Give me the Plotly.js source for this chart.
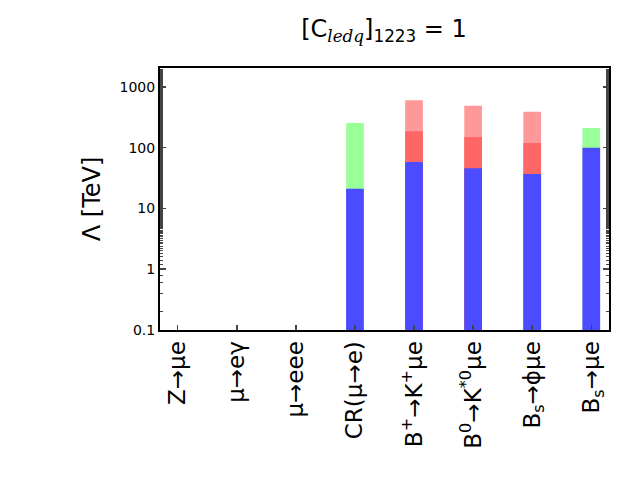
<!DOCTYPE html>
<html>
<head>
<meta charset="utf-8">
<script src="https://cdn.plot.ly/plotly-3.0.1.min.js"></script>
<style>
  html, body { margin: 0; padding: 0; background: #fff; }
  #chart { width: 640px; height: 480px; }
</style>
</head>
<body>
<div id="chart"></div>
<script>
// processes along the x axis
const processes = [
    "Z→μe",
    "μ→eγ",
    "μ→eee",
    "CR(μ→e)",
    "B<sup>+</sup>→K<sup>+</sup>μe",
    "B<sup>0</sup>→K<sup>*0</sup>μe",
    "B<sub>s</sub>→ϕμe",
    "B<sub>s</sub>→μe"
];
const positions = [0, 1, 2, 3, 4, 5, 6, 7];

// bounds on Lambda in TeV (null = no bar)
const blueVals      = [null, null, null, 21, 58, 46, 37, 100];
const redVals       = [null, null, null, null, 186, 150, 119, null];
const lightRedVals  = [null, null, null, null, 600, 490, 390, null];
const greenVals     = [null, null, null, 255, null, null, null, 210];

const yTickVals = [0.1, 1, 10, 100, 1000];
const yTickText = ["0.1", "1", "10", "100", "1000"];

function barTrace(vals, color) {
    return {
        x: positions,
        y: vals,
        type: 'bar',
        width: 0.3,
        marker: { color: color, line: { width: 0 } },
        hoverinfo: 'y',
        showlegend: false
    };
}

let traces = [
    barTrace(lightRedVals, '#ff9999'),
    barTrace(greenVals, '#99ff99'),
    barTrace(redVals, '#ff6666'),
    barTrace(blueVals, '#4b4bff')
];

let layout = {
    width: 640,
    height: 480,
    barmode: 'overlay',
    paper_bgcolor: '#fff',
    plot_bgcolor: '#fff',
    font: { family: 'DejaVu Sans, sans-serif', color: '#000' },
    margin: { l: 160, r: 31, t: 68, b: 150 },
    title: {
        text: "[C<sub><span style=\"font-family:'DejaVu Serif';font-style:italic\">ledq</span></sub>]<sub>1223</sub> = 1",
        font: { size: 24 },
        x: 0.6,
        xanchor: 'center',
        y: 0.94,
        yanchor: 'middle'
    },
    xaxis: {
        range: [-0.3, 7.3],
        tickvals: positions,
        ticktext: processes,
        tickangle: -90,
        tickfont: { size: 23 },
        ticks: 'inside',
        ticklen: 5,
        tickwidth: 1.5,
        showline: true,
        linewidth: 2,
        linecolor: '#000',
        mirror: true,
        showgrid: false,
        zeroline: false
    },
    yaxis: {
        type: 'log',
        range: [-1, 3.31],
        tickvals: yTickVals,
        ticktext: yTickText,
        tickfont: { size: 14 },
        ticks: 'inside',
        ticklen: 6,
        tickwidth: 1.5,
        minor: { ticks: 'inside', ticklen: 3, tickwidth: 1, showgrid: false },
        showline: true,
        linewidth: 2,
        linecolor: '#000',
        mirror: 'allticks',
        showgrid: false,
        zeroline: false,
        title: { text: "Λ [TeV]", font: { size: 24 }, standoff: 12 }
    }
};

Plotly.newPlot('chart', traces, layout, { displayModeBar: false, staticPlot: true });
</script>
</body>
</html>
